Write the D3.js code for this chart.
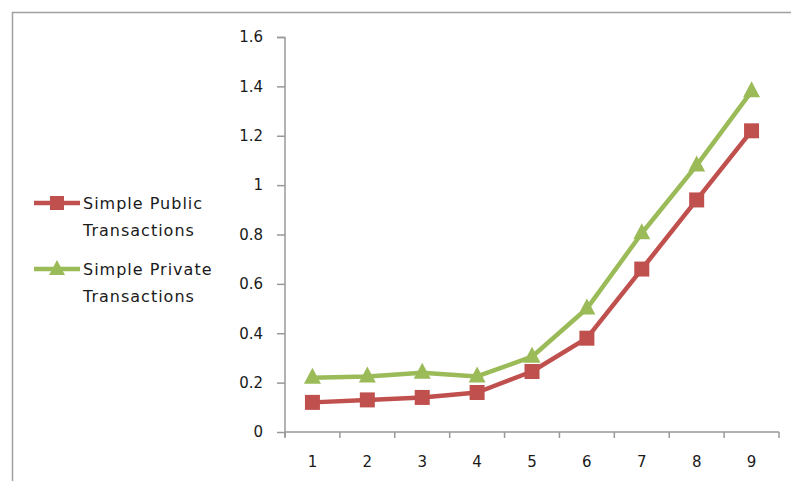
<!DOCTYPE html>
<html><head><meta charset="utf-8">
<script src="https://cdn.jsdelivr.net/npm/d3@7"></script>
<style>body{margin:0;background:#fff}svg{display:block}text{font-family:"DejaVu Sans",sans-serif;fill:#1a1a1a}</style>
</head><body>
<svg id="c" width="791" height="481"></svg>
<script>
const categories = ["1","2","3","4","5","6","7","8","9"];
const publicValues = [0.12, 0.13, 0.14, 0.16, 0.245, 0.38, 0.66, 0.94, 1.22];
const privateValues = [0.22, 0.225, 0.24, 0.225, 0.305, 0.50, 0.805, 1.08, 1.38];
const yTicks = [0, 0.2, 0.4, 0.6, 0.8, 1, 1.2, 1.4, 1.6];
const seriesNames = [["Simple Public", "Transactions"], ["Simple Private", "Transactions"]];
const colors = ["#c0504d", "#9bbb59"];

const svg = d3.select("#c");
// frame
svg.append("path").attr("d","M12.5,481 V12.5 H791").attr("fill","none").attr("stroke","#a0a0a0").attr("stroke-width",1.5);

const x = d3.scaleBand().domain(categories).range([285, 779]);
const y = d3.scaleLinear().domain([0, 1.6]).range([432, 37]);

const gy = svg.append("g").attr("transform","translate(285,0)")
  .call(d3.axisLeft(y).tickValues(yTicks).tickSize(8).tickPadding(14).tickFormat(d3.format("")));
gy.select(".domain").attr("stroke","#999").attr("stroke-width",1.5).attr("d","M-8,37.5H0V437");
gy.selectAll(".tick line").attr("stroke","#999").attr("stroke-width",1.5);
gy.selectAll(".tick text").attr("font-size","15px").attr("fill","#1a1a1a").attr("font-family","DejaVu Sans, sans-serif");

const gx = svg.append("g").attr("transform","translate(0,432)");
gx.append("line").attr("x1",285).attr("x2",779).attr("stroke","#999").attr("stroke-width",1.5);
const edges = categories.map(c => x(c)).concat([779]);
gx.selectAll("line.t").data(edges).enter().append("line").attr("class","t")
  .attr("x1",d=>d).attr("x2",d=>d).attr("y1",0).attr("y2",6).attr("stroke","#999").attr("stroke-width",1.5);
gx.selectAll("text").data(categories).enter().append("text")
  .attr("x",d=>x(d)+x.bandwidth()/2).attr("y",35).attr("text-anchor","middle").attr("font-size","15px").text(d=>d);

const line = d3.line().x((d,i)=>x(categories[i])+x.bandwidth()/2).y(d=>y(d));
const data = [publicValues, privateValues];
data.forEach((vals, si) => {
  svg.append("path").attr("d", line(vals)).attr("fill","none").attr("stroke",colors[si]).attr("stroke-width",4.5).attr("stroke-linejoin","round");
  const g = svg.append("g");
  vals.forEach((v,i) => {
    const cx = x(categories[i])+x.bandwidth()/2, cy = y(v);
    if (si===0) g.append("rect").attr("x",cx-7.5).attr("y",cy-7.5).attr("width",15).attr("height",15).attr("fill",colors[si]);
    else g.append("path").attr("d",`M${cx},${cy-10}L${cx+8.5},${cy+6}L${cx-8.5},${cy+6}Z`).attr("fill",colors[si]);
  });
});

// legend
const legY = [203, 269];
seriesNames.forEach((name, si) => {
  const ly = legY[si];
  svg.append("line").attr("x1",34).attr("x2",80).attr("y1",ly).attr("y2",ly).attr("stroke",colors[si]).attr("stroke-width",4.5);
  if (si===0) svg.append("rect").attr("x",50).attr("y",ly-7).attr("width",14).attr("height",14).attr("fill",colors[si]);
  else svg.append("path").attr("d",`M57,${ly-9}L65,${ly+6}L49,${ly+6}Z`).attr("fill",colors[si]);
  svg.append("text").attr("x",83).attr("y",ly+6).attr("font-size","16px").attr("letter-spacing","1px").text(name[0]);
  svg.append("text").attr("x",83).attr("y",ly+33).attr("font-size","16px").attr("letter-spacing","1px").text(name[1]);
});
</script>
</body></html>
